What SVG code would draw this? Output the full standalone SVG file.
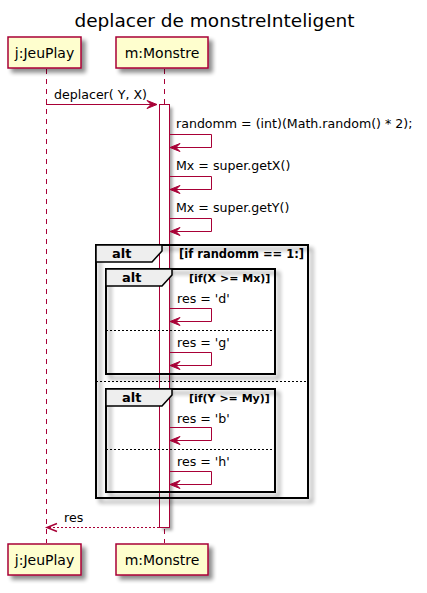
<svg xmlns="http://www.w3.org/2000/svg" width="427" height="593" viewBox="0 0 427 593">
<defs>
<filter id="sh" x="-20%" y="-20%" width="150%" height="150%">
<feGaussianBlur in="SourceAlpha" stdDeviation="2"/>
<feOffset dx="4" dy="4" result="b"/>
<feComponentTransfer><feFuncA type="linear" slope="0.45"/></feComponentTransfer>
<feMerge><feMergeNode/><feMergeNode in="SourceGraphic"/></feMerge>
</filter>
<filter id="blur" x="-50%" y="-10%" width="200%" height="120%"><feGaussianBlur stdDeviation="1.5"/></filter>
</defs>
<style>
text{font-family:"DejaVu Sans",sans-serif;fill:#000}
.part{fill:#FEFECE;stroke:#A80036;stroke-width:1.5}
.pt{font-size:14px;text-anchor:middle}
.life{stroke:#A80036;stroke-width:1;stroke-dasharray:5,5;fill:none}
.msg{stroke:#A80036;stroke-width:1;fill:none}
.head{fill:#A80036;stroke:#A80036;stroke-width:1}
.mt{font-size:12.6px}
.frame{fill:none;stroke:#000;stroke-width:2}
.tab{fill:#EEEEEE;stroke:#000;stroke-width:1.5}
.ft{font-size:13px;font-weight:bold}
.ct{font-size:11px;font-weight:bold}
.sep{stroke:#000;stroke-width:1;stroke-dasharray:2,2}
</style>
<text x="214.5" y="27" style="font-size:18.5px;text-anchor:middle">deplacer de monstreInteligent</text>
<g id="lifelines">
<line class="life" x1="46.5" y1="69" x2="46.5" y2="543"/>
<line class="life" x1="164.5" y1="69" x2="164.5" y2="543"/>
</g>
<g id="p_j_top"><rect class="part" x="8" y="37" width="73" height="31" filter="url(#sh)"/><text class="pt" x="44.5" y="58">j:JeuPlay</text></g>
<g id="p_m_top"><rect class="part" x="116" y="37" width="92" height="31" filter="url(#sh)"/><text class="pt" x="162" y="58">m:Monstre</text></g>
<g id="p_j_bot"><rect class="part" x="8" y="544" width="73" height="31" filter="url(#sh)"/><text class="pt" x="44.5" y="565">j:JeuPlay</text></g>
<g id="p_m_bot"><rect class="part" x="116" y="544" width="92" height="31" filter="url(#sh)"/><text class="pt" x="162" y="565">m:Monstre</text></g>
<g id="activation">
<rect x="162.5" y="107.5" width="10" height="423" fill="#000" fill-opacity="0.35" filter="url(#blur)"/>
<rect x="159.5" y="104.5" width="10" height="423" fill="#FFFFFF" stroke="#A80036" stroke-width="1"/>
</g>
<g id="alt_outer">
<rect class="frame" x="96" y="245" width="212" height="253" filter="url(#sh)"/>
<path class="tab" d="M96,245 H162 V251 L152,262 H96 Z"/>
<text class="ft" x="112" y="258">alt</text>
<text class="ct" x="179" y="258" style="font-size:11.5px">[if randomm == 1:]</text>
<line class="sep" x1="96" y1="381.5" x2="308" y2="381.5"/>
</g>
<g id="alt_inner1">
<rect class="frame" x="106" y="269" width="169" height="105" filter="url(#sh)"/>
<path class="tab" d="M106,269 H172 V275 L162,286 H106 Z"/>
<text class="ft" x="122" y="282">alt</text>
<text class="ct" x="189" y="282">[if(X &gt;= Mx)]</text>
<line class="sep" x1="106" y1="330.5" x2="275" y2="330.5"/>
</g>
<g id="alt_inner2">
<rect class="frame" x="106" y="389" width="169" height="103" filter="url(#sh)"/>
<path class="tab" d="M106,389 H172 V395 L162,406 H106 Z"/>
<text class="ft" x="122" y="402">alt</text>
<text class="ct" x="189" y="402">[if(Y &gt;= My)]</text>
<line class="sep" x1="106" y1="449.5" x2="275" y2="449.5"/>
</g>
<g id="connectors">
<line class="msg" x1="46" y1="104.5" x2="157" y2="104.5"/>
<polygon class="head" points="147,100.5 157,104.5 147,108.5 151,104.5"/>
<text class="mt" x="54" y="99">deplacer( Y, X)</text>

<polyline class="msg" points="170,134.5 211.5,134.5 211.5,147.5 170,147.5"/>
<polygon class="head" points="180,143.5 170,147.5 180,151.5 176,147.5"/>
<text class="mt" x="176" y="128">randomm = (int)(Math.random() * 2);</text>

<polyline class="msg" points="170,176.5 211.5,176.5 211.5,189.5 170,189.5"/>
<polygon class="head" points="180,185.5 170,189.5 180,193.5 176,189.5"/>
<text class="mt" x="176" y="170">Mx = super.getX()</text>

<polyline class="msg" points="170,218.5 211.5,218.5 211.5,231.5 170,231.5"/>
<polygon class="head" points="180,227.5 170,231.5 180,235.5 176,231.5"/>
<text class="mt" x="176" y="212">Mx = super.getY()</text>

<polyline class="msg" points="170,308.5 211.5,308.5 211.5,321.5 170,321.5"/>
<polygon class="head" points="180,317.5 170,321.5 180,325.5 176,321.5"/>
<text class="mt" x="177" y="303">res = 'd'</text>

<polyline class="msg" points="170,352.5 211.5,352.5 211.5,365.5 170,365.5"/>
<polygon class="head" points="180,361.5 170,365.5 180,369.5 176,365.5"/>
<text class="mt" x="177" y="347">res = 'g'</text>

<polyline class="msg" points="170,427.5 211.5,427.5 211.5,440.5 170,440.5"/>
<polygon class="head" points="180,436.5 170,440.5 180,444.5 176,440.5"/>
<text class="mt" x="177" y="423">res = 'b'</text>

<polyline class="msg" points="170,471.5 211.5,471.5 211.5,484.5 170,484.5"/>
<polygon class="head" points="180,480.5 170,484.5 180,488.5 176,484.5"/>
<text class="mt" x="177" y="466">res = 'h'</text>

<line class="msg" x1="159" y1="527.5" x2="47" y2="527.5" stroke-dasharray="2,2"/>
<polyline class="msg" points="57,523.5 47,527.5 57,531.5" style="stroke-width:1.5"/>
<text class="mt" x="64" y="522">res</text>
</g>
</svg>
